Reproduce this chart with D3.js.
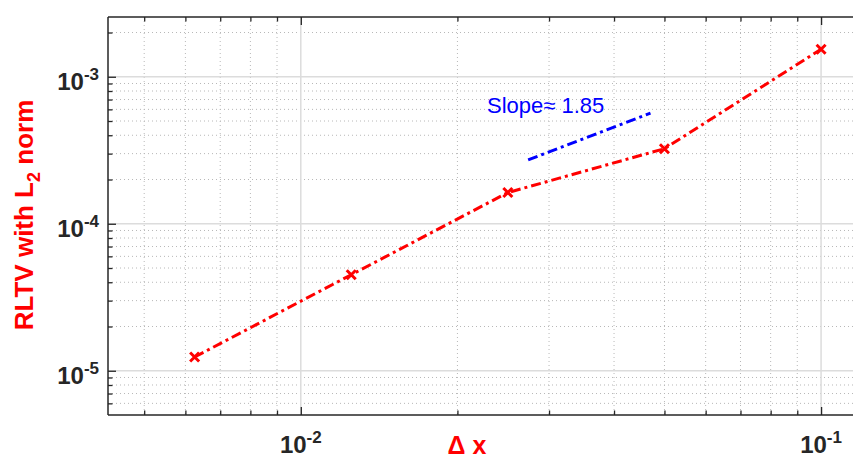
<!DOCTYPE html>
<html><head><meta charset="utf-8">
<script src="https://cdn.jsdelivr.net/npm/d3@7/dist/d3.min.js"></script>
<style>body{margin:0;background:#fff;}svg{display:block;font-family:"Liberation Sans",Arial,sans-serif;}</style>
</head><body>
<svg id="c" width="853" height="459"></svg>
<script>
const dx = [0.00625, 0.0125, 0.025, 0.05, 0.1];
const rltv = [1.24e-5, 4.5e-5, 1.63e-4, 3.24e-4, 1.54e-3];
const slopeX = [0.02735, 0.047];
const slopeY = [2.72e-4, 5.66e-4];
const slopeText = "Slope\u2248 1.85";
const xMajor = [0.01, 0.1];
const xMajorExp = ["-2", "-1"];
const yMajor = [1e-5, 1e-4, 1e-3];
const yMajorExp = ["-5", "-4", "-3"];
const xDomain = [0.00426, 0.1162];
const yDomain = [5e-6, 2.55e-3];

const L = 108, R = 855, T = 17, B = 415;
const svg = d3.select("#c");
const x = d3.scaleLog().domain(xDomain).range([L, R]);
const y = d3.scaleLog().domain(yDomain).range([B, T]);

const xMinor = [], yMinor = [];
for (let e = -3; e <= -1; e++) for (let m = 2; m <= 9; m++) { const v = m * Math.pow(10, e); if (v >= xDomain[0] && v <= xDomain[1]) xMinor.push(v); }
for (let e = -6; e <= -3; e++) for (let m = 2; m <= 9; m++) { const v = m * Math.pow(10, e); if (v >= yDomain[0] && v <= yDomain[1]) yMinor.push(v); }

const g = svg.append("g");
g.selectAll(".mgx").data(xMinor).enter().append("line")
  .attr("x1", d => x(d)).attr("x2", d => x(d)).attr("y1", T).attr("y2", B)
  .attr("stroke", "#b8b8b8").attr("stroke-width", 1).attr("stroke-dasharray", "1,3");
g.selectAll(".mgy").data(yMinor).enter().append("line")
  .attr("y1", d => y(d)).attr("y2", d => y(d)).attr("x1", L).attr("x2", R)
  .attr("stroke", "#b8b8b8").attr("stroke-width", 1).attr("stroke-dasharray", "1,3");
g.selectAll(".Mgx").data(xMajor).enter().append("line")
  .attr("x1", d => x(d)).attr("x2", d => x(d)).attr("y1", T).attr("y2", B)
  .attr("stroke", "#dcdcdc").attr("stroke-width", 1.5);
g.selectAll(".Mgy").data(yMajor).enter().append("line")
  .attr("y1", d => y(d)).attr("y2", d => y(d)).attr("x1", L).attr("x2", R)
  .attr("stroke", "#dcdcdc").attr("stroke-width", 1.5);

const axCol = "#262626";
function styleAxis(sel) {
  sel.select(".domain").remove();
  sel.selectAll("line").attr("stroke", axCol).attr("stroke-width", 1.3);
  sel.selectAll("text").remove();
}
const xb = svg.append("g").attr("transform", `translate(0,${B})`);
xb.call(d3.axisBottom(x).tickValues(xMajor).tickSize(-8)).call(styleAxis);
xb.append("g").call(d3.axisBottom(x).tickValues(xMinor).tickSize(-4.5)).call(styleAxis);
const xt = svg.append("g").attr("transform", `translate(0,${T})`);
xt.call(d3.axisTop(x).tickValues(xMajor).tickSize(-8)).call(styleAxis);
xt.append("g").call(d3.axisTop(x).tickValues(xMinor).tickSize(-4.5)).call(styleAxis);
const yl = svg.append("g").attr("transform", `translate(${L},0)`);
yl.call(d3.axisLeft(y).tickValues(yMajor).tickSize(-8)).call(styleAxis);
yl.append("g").call(d3.axisLeft(y).tickValues(yMinor).tickSize(-4.5)).call(styleAxis);

svg.append("line").attr("x1", L).attr("x2", R).attr("y1", B).attr("y2", B).attr("stroke", axCol).attr("stroke-width", 1.5);
svg.append("line").attr("x1", L).attr("x2", R).attr("y1", T).attr("y2", T).attr("stroke", axCol).attr("stroke-width", 1.5);
svg.append("line").attr("x1", L).attr("x2", L).attr("y1", T).attr("y2", B).attr("stroke", axCol).attr("stroke-width", 1.5);

xMajor.forEach((v, i) => {
  const t = svg.append("text").attr("x", x(v)).attr("y", 453).attr("text-anchor", "middle")
    .attr("font-weight", "bold").attr("font-size", 24).attr("fill", "#262626");
  t.append("tspan").text("10");
  t.append("tspan").attr("dy", -10).attr("font-size", 17).text(xMajorExp[i]);
});
yMajor.forEach((v, i) => {
  const t = svg.append("text").attr("x", 99).attr("y", y(v) + 13.5).attr("text-anchor", "end")
    .attr("font-weight", "bold").attr("font-size", 24).attr("fill", "#262626");
  t.append("tspan").text("10");
  t.append("tspan").attr("dy", -10).attr("font-size", 17).text(yMajorExp[i]);
});

svg.append("text").attr("x", 467).attr("y", 454).attr("text-anchor", "middle")
  .attr("font-weight", "bold").attr("font-size", 25).attr("fill", "#ff0000").text("\u0394 x");
const ylab = svg.append("text").attr("transform", "translate(33,215) rotate(-90)").attr("text-anchor", "middle")
  .attr("font-weight", "bold").attr("font-size", 26).attr("fill", "#ff0000");
ylab.append("tspan").text("RLTV with L");
ylab.append("tspan").attr("dy", 7).attr("font-size", 18).text("2");
ylab.append("tspan").attr("dy", -7).text(" norm");

const line = d3.line().x(d => x(d[0])).y(d => y(d[1]));
svg.append("path").datum(dx.map((d, i) => [d, rltv[i]])).attr("d", line)
  .attr("fill", "none").attr("stroke", "#ff0000").attr("stroke-width", 3)
  .attr("stroke-dasharray", "10,4,3,4");
const ms = 4.5;
svg.selectAll(".mk").data(dx.map((d, i) => [d, rltv[i]])).enter().append("path")
  .attr("d", d => { const cx = x(d[0]), cy = y(d[1]); return `M${cx-ms},${cy-ms}L${cx+ms},${cy+ms}M${cx-ms},${cy+ms}L${cx+ms},${cy-ms}`; })
  .attr("stroke", "#ff0000").attr("stroke-width", 3).attr("fill", "none");

svg.append("path").datum(slopeX.map((d, i) => [d, slopeY[i]])).attr("d", line)
  .attr("fill", "none").attr("stroke", "#0000ff").attr("stroke-width", 3)
  .attr("stroke-dasharray", "10,4,3,4");
svg.append("text").attr("x", 487).attr("y", 113).attr("font-size", 22).attr("fill", "#0000ff").text(slopeText);
</script>
</body></html>
